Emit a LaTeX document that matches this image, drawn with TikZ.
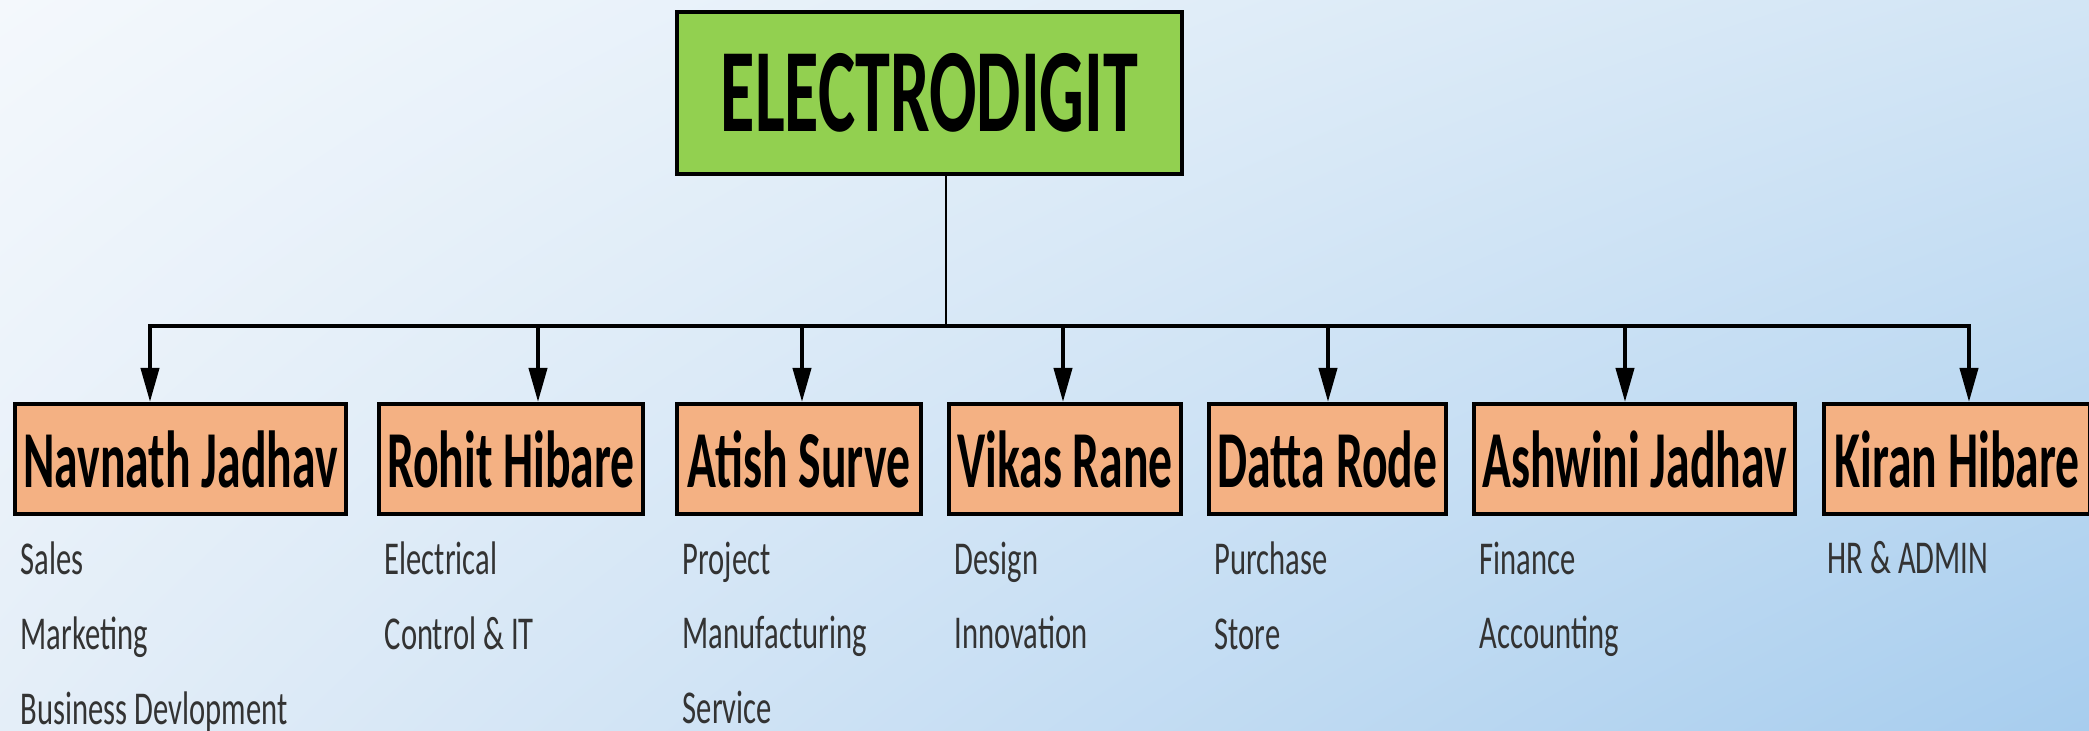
\documentclass[tikz,border=0pt]{standalone}
\usepackage{fontspec}
\setmainfont{Carlito}
\newfontfamily\namefont{Carlito}[FakeStretch=0.59]
\newfontfamily\dutyfont{Carlito}[FakeStretch=0.65]
\usetikzlibrary{shapes, arrows.meta, positioning, shadings}
\definecolor{headgreen}{HTML}{92D050}
\definecolor{headorange}{HTML}{F4B183}
\definecolor{bgul}{HTML}{F4F8FC}
\definecolor{bgur}{HTML}{D2E5F5}
\definecolor{bgll}{HTML}{E4EEF8}
\definecolor{bglr}{HTML}{A7CDEE}
\tikzstyle{company} = [rectangle, minimum width=5.05cm, minimum height=1.62cm, text centered, draw=black, line width=0.04cm, fill=headgreen, inner sep=0pt, font=\namefont\bfseries\fontsize{33.9pt}{40pt}\selectfont]
\tikzstyle{person} = [rectangle, minimum height=1.10cm, text centered, draw=black, line width=0.04cm, fill=headorange, inner sep=0pt, font=\namefont\bfseries\fontsize{23pt}{28pt}\selectfont]
\tikzstyle{duty} = [rectangle, align=left, inner sep=0pt, anchor=north west, text=black!80, font=\dutyfont\fontsize{13.4pt}{21.3pt}\selectfont]
\tikzstyle{arrow} = [line width=0.04cm, -{Triangle[length=0.34cm, width=0.18cm]}]

\begin{document}
\begin{tikzpicture}[node distance=3.66cm]
\useasboundingbox (0,0) rectangle (20.89,-7.31);
\shade[upper left=bgul, upper right=bgur, lower left=bgll, lower right=bglr] (0,0) rectangle (20.89,-7.31);

\node (company) [company] at (9.295,-0.93) {ELECTRODIGIT};
\node (navnath) [person, below of=company, xshift=-7.49cm, minimum width=3.31cm] {Navnath Jadhav};
\node (rohit) [person, below of=company, xshift=-4.185cm, minimum width=2.64cm] {Rohit Hibare};
\node (atish) [person, below of=company, xshift=-1.305cm, minimum width=2.44cm] {Atish Surve};
\node (vikas) [person, below of=company, xshift=1.355cm, minimum width=2.32cm] {Vikas Rane};
\node (datta) [person, below of=company, xshift=3.98cm, minimum width=2.37cm] {Datta Rode};
\node (ashwini) [person, below of=company, xshift=7.05cm, minimum width=3.21cm] {Ashwini Jadhav};
\node (kiran) [person, below of=company, xshift=10.275cm, minimum width=2.66cm] {Kiran Hibare};

\node (navnathdept) [duty] at ([xshift=0.07cm, yshift=-0.25cm]navnath.south west) {Sales\\Marketing\\Business Devlopment};
\node (rohitdept) [duty] at ([xshift=0.07cm, yshift=-0.25cm]rohit.south west) {Electrical\\Control \& IT};
\node (atishdept) [duty] at ([xshift=0.07cm, yshift=-0.25cm]atish.south west) {Project\\Manufacturing\\Service};
\node (vikasdept) [duty] at ([xshift=0.07cm, yshift=-0.25cm]vikas.south west) {Design\\Innovation};
\node (dattadept) [duty] at ([xshift=0.07cm, yshift=-0.25cm]datta.south west) {Purchase\\Store};
\node (ashwinidept) [duty] at ([xshift=0.07cm, yshift=-0.25cm]ashwini.south west) {Finance\\Accounting};
\node (kirandept) [duty] at ([xshift=0.05cm, yshift=-0.25cm]kiran.south west) {HR \& ADMIN};

\coordinate (bus1) at (1.50,-3.26);
\coordinate (bus2) at (5.38,-3.26);
\coordinate (bus3) at (8.02,-3.26);
\coordinate (bus4) at (10.63,-3.26);
\coordinate (bus5) at (13.28,-3.26);
\coordinate (bus6) at (16.25,-3.26);
\coordinate (bus7) at (19.69,-3.26);

\draw[line width=0.025cm] ([xshift=0.165cm]company.south) -- ([xshift=0.165cm]company.south |- bus1);
\draw[line width=0.04cm, line cap=rect] (bus1) -- (bus7);
\draw[arrow] (bus1) -- (bus1 |- navnath.north);
\draw[arrow] (bus2) -- (bus2 |- rohit.north);
\draw[arrow] (bus3) -- (bus3 |- atish.north);
\draw[arrow] (bus4) -- (bus4 |- vikas.north);
\draw[arrow] (bus5) -- (bus5 |- datta.north);
\draw[arrow] (bus6) -- (bus6 |- ashwini.north);
\draw[arrow] (bus7) -- (bus7 |- kiran.north);
\end{tikzpicture}
\end{document}
